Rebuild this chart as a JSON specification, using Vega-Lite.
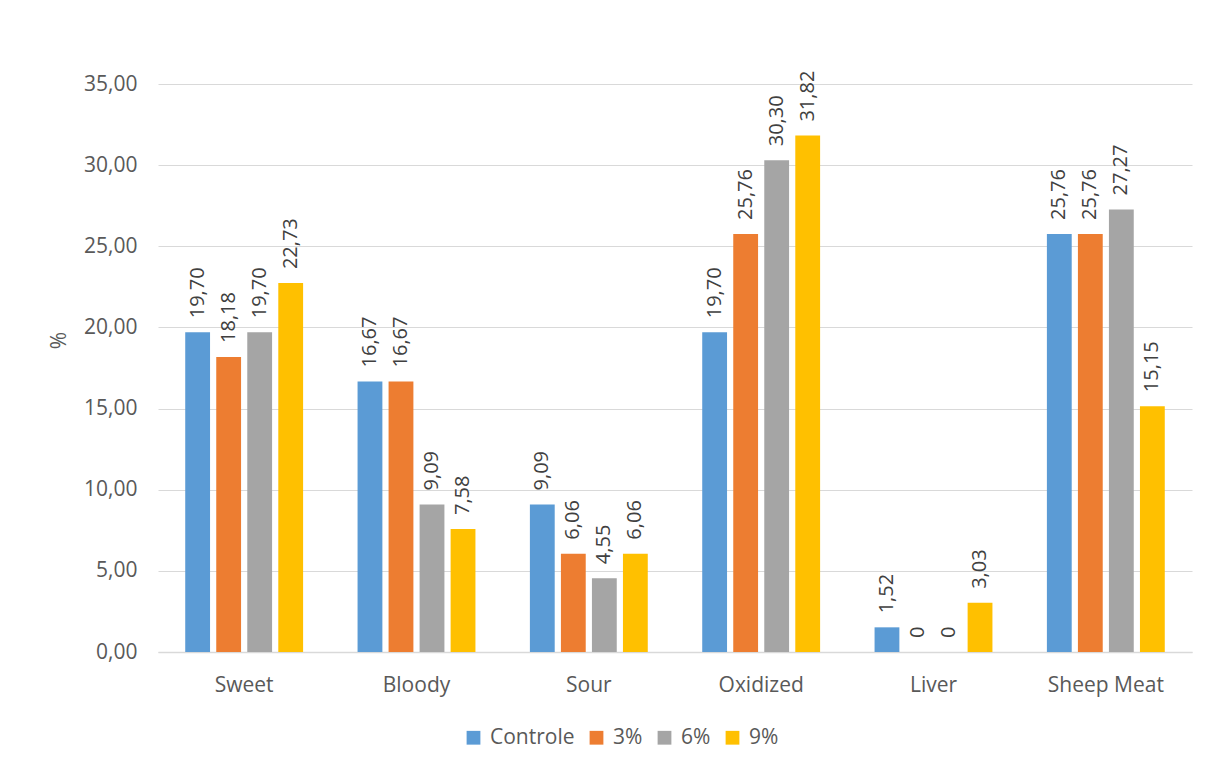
{
  "$schema": "https://vega.github.io/schema/vega-lite/v6.json",
  "width": 1034,
  "height": 568,
  "autosize": "none",
  "padding": {"left": 158, "top": 84, "right": 31, "bottom": 120},
  "background": "white",
  "data": {
    "values": [
      {"cat": "Sweet", "grp": "Controle", "v": 19.70},
      {"cat": "Sweet", "grp": "3%", "v": 18.18},
      {"cat": "Sweet", "grp": "6%", "v": 19.70},
      {"cat": "Sweet", "grp": "9%", "v": 22.73},
      {"cat": "Bloody", "grp": "Controle", "v": 16.67},
      {"cat": "Bloody", "grp": "3%", "v": 16.67},
      {"cat": "Bloody", "grp": "6%", "v": 9.09},
      {"cat": "Bloody", "grp": "9%", "v": 7.58},
      {"cat": "Sour", "grp": "Controle", "v": 9.09},
      {"cat": "Sour", "grp": "3%", "v": 6.06},
      {"cat": "Sour", "grp": "6%", "v": 4.55},
      {"cat": "Sour", "grp": "9%", "v": 6.06},
      {"cat": "Oxidized", "grp": "Controle", "v": 19.70},
      {"cat": "Oxidized", "grp": "3%", "v": 25.76},
      {"cat": "Oxidized", "grp": "6%", "v": 30.30},
      {"cat": "Oxidized", "grp": "9%", "v": 31.82},
      {"cat": "Liver", "grp": "Controle", "v": 1.52},
      {"cat": "Liver", "grp": "3%", "v": 0},
      {"cat": "Liver", "grp": "6%", "v": 0},
      {"cat": "Liver", "grp": "9%", "v": 3.03},
      {"cat": "Sheep Meat", "grp": "Controle", "v": 25.76},
      {"cat": "Sheep Meat", "grp": "3%", "v": 25.76},
      {"cat": "Sheep Meat", "grp": "6%", "v": 27.27},
      {"cat": "Sheep Meat", "grp": "9%", "v": 15.15}
    ]
  },
  "config": {
    "font": "Open Sans",
    "view": {"stroke": null},
    "locale": {"number": {"decimal": ",", "thousands": ".", "grouping": [3], "currency": ["", " €"]}}
  },
  "encoding": {
    "x": {
      "field": "cat", "type": "nominal", "sort": null,
      "scale": {"paddingInner": 0.28, "paddingOuter": 0.14},
      "axis": {"title": null, "labelAngle": 0, "labelFontSize": 21, "labelColor": "#595959",
               "labelPadding": 22, "ticks": false, "domainColor": "#d9d9d9", "domainWidth": 1.5, "grid": false}
    },
    "xOffset": {"field": "grp", "type": "nominal", "sort": ["Controle", "3%", "6%", "9%"],
                "scale": {"paddingInner": 0.2, "paddingOuter": 0.1}},
    "y": {
      "field": "v", "type": "quantitative",
      "scale": {"domain": [0, 35], "nice": false},
      "axis": {"title": "%", "titleFontSize": 21, "titleFontWeight": "normal", "titleColor": "#595959",
               "titleAngle": -90, "titlePadding": 14, "titleY": 256,
               "values": [0, 5, 10, 15, 20, 25, 30, 35], "format": ".2f",
               "labelFontSize": 21, "labelColor": "#595959", "labelPadding": 21,
               "ticks": false, "domain": false, "gridColor": "#d9d9d9", "gridWidth": 1.2}
    }
  },
  "layer": [
    {
      "mark": {"type": "bar"},
      "encoding": {
        "color": {
          "field": "grp", "type": "nominal", "sort": ["Controle", "3%", "6%", "9%"],
          "scale": {"domain": ["Controle", "3%", "6%", "9%"], "range": ["#5B9BD5", "#ED7D31", "#A5A5A5", "#FFC000"]},
          "legend": {
            "title": null, "orient": "none", "direction": "horizontal",
            "legendX": 305, "legendY": 643, "padding": 0,
            "symbolType": "square", "symbolSize": 190, "symbolStrokeWidth": 0,
            "labelFontSize": 21, "labelColor": "#595959", "labelOffset": 6, "columnPadding": 11
          }
        }
      }
    },
    {
      "mark": {"type": "text", "angle": 270, "align": "left", "baseline": "middle", "dx": 14,
               "fontSize": 20, "color": "#404040"},
      "encoding": {
        "text": {"condition": {"test": "datum.v === 0", "value": "0"}, "field": "v", "type": "quantitative", "format": ".2f"}
      }
    }
  ]
}
